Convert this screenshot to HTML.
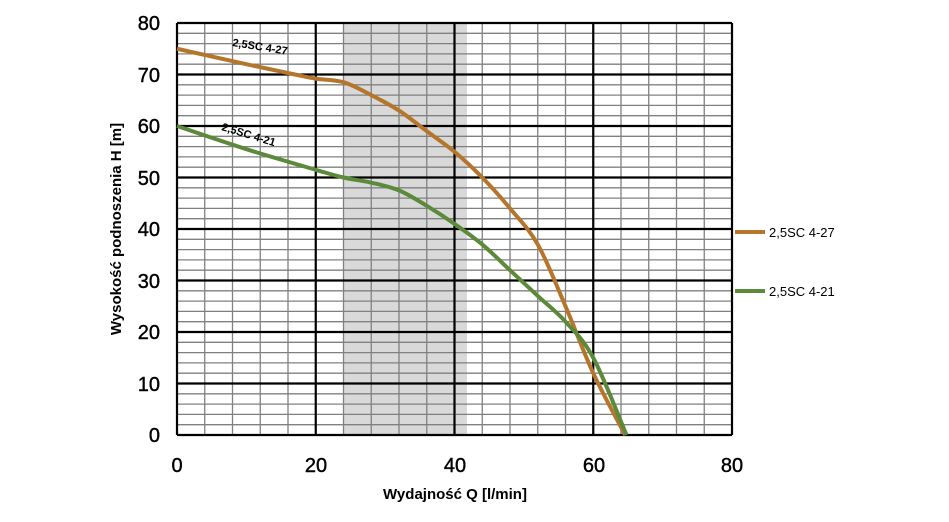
<!DOCTYPE html><html><head><style>body{margin:0;background:#fff}svg{font-family:"Liberation Sans",sans-serif}</style></head><body>
<svg width="949" height="517" xmlns="http://www.w3.org/2000/svg">
<rect x="344" y="23" width="123" height="412" fill="#d9d9d9"/>
<g stroke="#808080" stroke-width="1.3" id="minor"></g>
<g id="major" stroke="#000" stroke-width="2.2"></g>
<path id="c27" fill="none" stroke="#b5752a" stroke-width="4" stroke-linejoin="round"/>
<path id="c21" fill="none" stroke="#5a8a3a" stroke-width="4" stroke-linejoin="round"/>
<g font-size="20" text-anchor="middle" fill="#000" stroke="#000" stroke-width="0.4">
<text x="177" y="472">0</text><text x="316" y="472">20</text><text x="455" y="472">40</text><text x="594" y="472">60</text><text x="732" y="472">80</text>
</g>
<g font-size="20" text-anchor="end" fill="#000" stroke="#000" stroke-width="0.4">
<text x="160" y="442">0</text><text x="160" y="391">10</text><text x="160" y="339">20</text><text x="160" y="288">30</text><text x="160" y="236">40</text><text x="160" y="185">50</text><text x="160" y="133">60</text><text x="160" y="82">70</text><text x="160" y="30">80</text>
</g>
<text x="455" y="499" font-size="15" font-weight="bold" text-anchor="middle">Wydajność Q [l/min]</text>
<text transform="translate(121,229) rotate(-90)" font-size="15" font-weight="bold" text-anchor="middle">Wysokość podnoszenia H [m]</text>
<text transform="translate(232,46) rotate(9)" font-size="11" font-weight="bold">2,5SC 4-27</text>
<text transform="translate(221,130) rotate(17)" font-size="11" font-weight="bold">2,5SC 4-21</text>
<line x1="735" y1="232" x2="765" y2="232" stroke="#b5752a" stroke-width="4"/>
<line x1="735" y1="291" x2="765" y2="291" stroke="#5a8a3a" stroke-width="4"/>
<text x="769" y="237" font-size="13">2,5SC 4-27</text>
<text x="769" y="296" font-size="13">2,5SC 4-21</text>
</svg>
<script>
const X=q=>177+q*6.9375,Y=h=>435-h*5.15,ns="http://www.w3.org/2000/svg";
const mi=document.getElementById('minor'),ma=document.getElementById('major');
function ln(g,x1,y1,x2,y2){const l=document.createElementNS(ns,'line');l.setAttribute('x1',x1);l.setAttribute('y1',y1);l.setAttribute('x2',x2);l.setAttribute('y2',y2);g.appendChild(l);}
for(let q=0;q<=80;q+=4)if(q%20)ln(mi,X(q),23,X(q),435);
for(let h=0;h<=80;h+=2)if(h%10)ln(mi,177,Y(h),732,Y(h));
for(let q=0;q<=80;q+=20)ln(ma,X(q),23,X(q),435);
for(let h=0;h<=80;h+=10)ln(ma,177,Y(h),732,Y(h));
function path(id,pts){const p=pts.map(a=>[X(a[0]),Y(a[1])]);let d='M'+p[0];for(let i=0;i<p.length-1;i++){const p0=p[i-1]||p[i],p1=p[i],p2=p[i+1],p3=p[i+2]||p2;d+=` C${p1[0]+(p2[0]-p0[0])/6},${p1[1]+(p2[1]-p0[1])/6} ${p2[0]-(p3[0]-p1[0])/6},${p2[1]-(p3[1]-p1[1])/6} ${p2}`;}document.getElementById(id).setAttribute('d',d);}
path('c27',[[0,75],[10,72],[17,70],[20,69.2],[24,68.5],[28,66],[32,63],[36,59],[40,55],[44,50],[48,44],[52,37],[56,25],[60,12],[64.6,0]]);
path('c21',[[0,60],[10,55.5],[20,51.5],[24,50],[28,49],[32,47.5],[36,44.5],[40,41],[44,37],[48,32],[52,27],[56,22],[60,15],[64.8,0]]);
</script>
</body></html>
